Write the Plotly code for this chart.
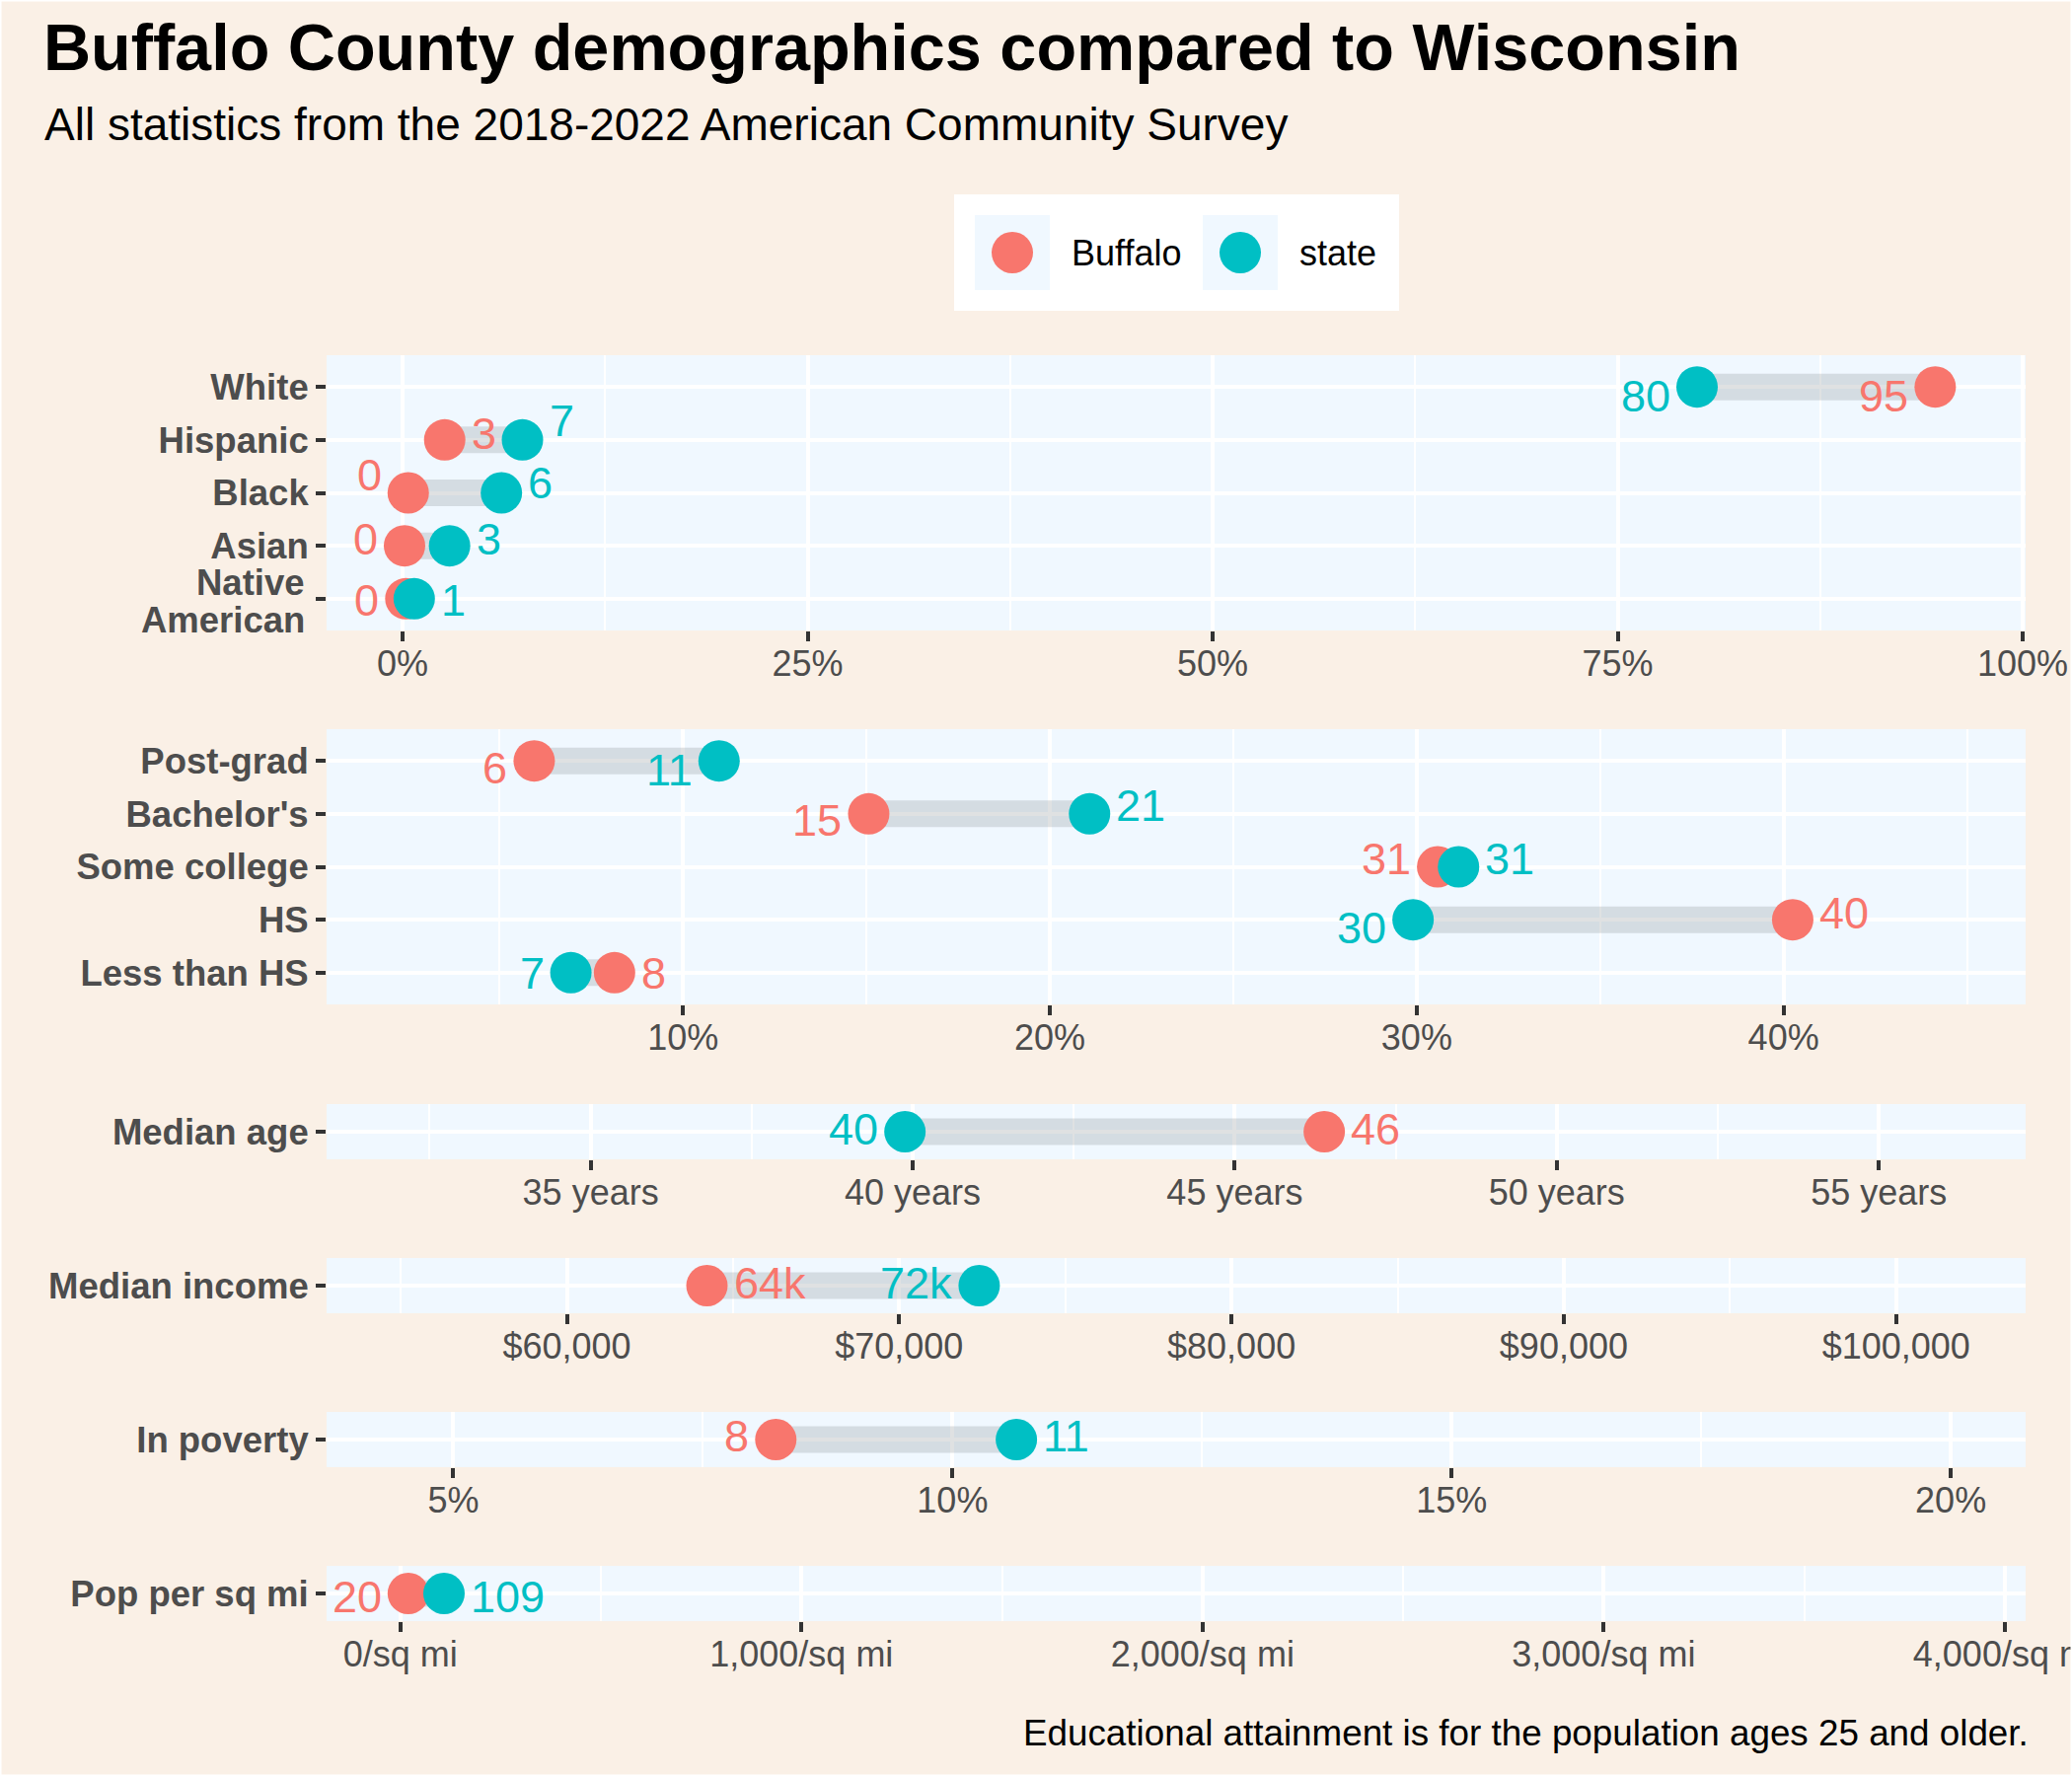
import plotly.graph_objects as go

# ---------------- data ----------------
race_cats = ["White", "Hispanic", "Black", "Asian", "Native American"]
race_buffalo = [94.6, 2.6, 0.35, 0.12, 0.2]
race_state = [79.9, 7.4, 6.1, 2.9, 0.72]

edu_cats = ["Post-grad", "Bachelor's", "Some college", "HS", "Less than HS"]
edu_buffalo = [5.94, 15.06, 30.57, 40.25, 8.13]
edu_state = [10.98, 21.08, 31.14, 29.9, 6.94]

age_cats = ["Median age"]
age_buffalo = [46.39]
age_state = [39.88]

income_cats = ["Median income"]
income_buffalo = [64216]
income_state = [72408]

poverty_cats = ["In poverty"]
poverty_buffalo = [8.23]
poverty_state = [10.64]

density_cats = ["Pop per sq mi"]
density_buffalo = [19.7]
density_state = [108.7]

race_ticks = [0, 25, 50, 75, 100]
race_ticktext = ["0%", "25%", "50%", "75%", "100%"]
edu_ticks = [10, 20, 30, 40]
edu_ticktext = ["10%", "20%", "30%", "40%"]
age_ticks = [35, 40, 45, 50, 55]
age_ticktext = ["35 years", "40 years", "45 years", "50 years", "55 years"]
income_ticks = [60000, 70000, 80000, 90000, 100000]
income_ticktext = ["$60,000", "$70,000", "$80,000", "$90,000", "$100,000"]
poverty_ticks = [5, 10, 15, 20]
poverty_ticktext = ["5%", "10%", "15%", "20%"]
density_ticks = [0, 1000, 2000, 3000, 4000]
density_ticktext = ["0/sq mi", "1,000/sq mi", "2,000/sq mi", "3,000/sq mi", "4,000/sq mi"]

# ---------------- style ----------------
W, H = 2100, 1800
BUF_COL = "#F8766D"
STATE_COL = "#00BFC4"
FONT = "Liberation Sans, Arial, Helvetica, sans-serif"
TXT_GREY = "#4D4D4D"
PANEL_L, PANEL_R = 331, 2053
LBL_GAP = 25
YLAB_FONT = dict(family=FONT, size=36.5, color=TXT_GREY, weight="bold")

def fmt_int(v):
    return str(int(round(v)))

def fmt_k(v):
    return f"{int(round(v / 1000))}k"

panels = [
    dict(cats=race_cats, buf=race_buffalo, st=race_state, ticks=race_ticks, ticktext=race_ticktext,
         minor=12.5, rng=[-4.69, 100.18], top=360, bot=639, fmt=fmt_int,
         buf_side=["L", "R", "L", "L", "L"], st_side=["L", "R", "R", "R", "R"],
         buf_dy=[9, -6, -18, -7, 2], st_dy=[9, -19, -10, -7, 2]),
    dict(cats=edu_cats, buf=edu_buffalo, st=edu_state, ticks=edu_ticks, ticktext=edu_ticktext,
         minor=5, rng=[0.28, 46.6], top=739, bot=1018, fmt=fmt_int,
         buf_side=["L", "L", "L", "R", "R"], st_side=["L", "R", "R", "L", "L"],
         buf_dy=[7, 7, -8, -7, 1], st_dy=[9, -8, -8, 8, 1]),
    dict(cats=age_cats, buf=age_buffalo, st=age_state, ticks=age_ticks, ticktext=age_ticktext,
         minor=2.5, rng=[30.9, 57.28], top=1119, bot=1175, fmt=fmt_int,
         buf_side=["R"], st_side=["L"], buf_dy=[-3], st_dy=[-3]),
    dict(cats=income_cats, buf=income_buffalo, st=income_state, ticks=income_ticks, ticktext=income_ticktext,
         minor=5000, rng=[52770, 103898], top=1275, bot=1331, fmt=fmt_k,
         buf_side=["R"], st_side=["L"], buf_dy=[-3], st_dy=[-3]),
    dict(cats=poverty_cats, buf=poverty_buffalo, st=poverty_state, ticks=poverty_ticks, ticktext=poverty_ticktext,
         minor=2.5, rng=[3.73, 20.75], top=1431, bot=1487, fmt=fmt_int,
         buf_side=["L"], st_side=["R"], buf_dy=[-4], st_dy=[-4]),
    dict(cats=density_cats, buf=density_buffalo, st=density_state, ticks=density_ticks, ticktext=density_ticktext,
         minor=500, rng=[-184, 4052], top=1587, bot=1643, fmt=fmt_int,
         buf_side=["L"], st_side=["R"], buf_dy=[3], st_dy=[3]),
]

fig = go.Figure()
annotations = []
layout_axes = {}

for i, p in enumerate(panels, start=1):
    xa = "x" if i == 1 else f"x{i}"
    ya = "y" if i == 1 else f"y{i}"
    cats = p["cats"]
    n = len(cats)

    # connecting band
    sx, sy = [], []
    for c, b, s in zip(cats, p["buf"], p["st"]):
        sx += [b, s, None]
        sy += [c, c, None]
    fig.add_trace(go.Scatter(x=sx, y=sy, mode="lines", xaxis=xa, yaxis=ya,
                             line=dict(color="rgba(150,155,160,0.30)", width=27),
                             hoverinfo="skip", showlegend=False))
    # points
    fig.add_trace(go.Scatter(x=p["buf"], y=cats, mode="markers", xaxis=xa, yaxis=ya,
                             marker=dict(size=42, color=BUF_COL, line=dict(width=0)),
                             name="Buffalo", showlegend=False))
    fig.add_trace(go.Scatter(x=p["st"], y=cats, mode="markers", xaxis=xa, yaxis=ya,
                             marker=dict(size=42, color=STATE_COL, line=dict(width=0)),
                             name="state", showlegend=False))

    # value labels
    for vals, sides, dys, col in ((p["buf"], p["buf_side"], p["buf_dy"], BUF_COL),
                                  (p["st"], p["st_side"], p["st_dy"], STATE_COL)):
        for c, v, sd, dy in zip(cats, vals, sides, dys):
            annotations.append(dict(
                x=v, y=c, xref=xa, yref=ya, text=p["fmt"](v), showarrow=False,
                xanchor="right" if sd == "L" else "left",
                xshift=-LBL_GAP if sd == "L" else LBL_GAP, yshift=-dy,
                font=dict(family=FONT, size=45, color=col)))

    # two-line category labels drawn with tighter line spacing (as in the reference)
    ticktext_y = []
    for c in cats:
        words = c.split(" ")
        if c == "Native American":
            ticktext_y.append("")
            for k, w in enumerate(words):
                annotations.append(dict(
                    x=0, y=c, xref="paper", yref=ya, text=w, showarrow=False,
                    xanchor="right", yanchor="middle", xshift=PANEL_L - 20,
                    yshift=16 - 38 * k, font=YLAB_FONT))
        else:
            ticktext_y.append(c)

    xkey = "xaxis" if i == 1 else f"xaxis{i}"
    ykey = "yaxis" if i == 1 else f"yaxis{i}"
    layout_axes[xkey] = dict(
        domain=[PANEL_L / W, PANEL_R / W], anchor=ya, range=p["rng"], automargin=False,
        tickmode="array", tickvals=p["ticks"], ticktext=p["ticktext"],
        showgrid=True, gridcolor="white", gridwidth=4, zeroline=False, showline=False,
        ticks="outside", ticklen=10, tickwidth=4, tickcolor="#333333",
        ticklabelstandoff=-8, ticklabeloverflow="allow",
        tickfont=dict(family=FONT, size=36, color=TXT_GREY),
        minor=dict(tick0=p["ticks"][0] + p["minor"], dtick=2 * p["minor"], showgrid=True,
                   gridcolor="white", gridwidth=2, ticks=""),
        fixedrange=True,
    )
    layout_axes[ykey] = dict(
        domain=[1 - p["bot"] / H, 1 - p["top"] / H], anchor=xa, type="category", automargin=False,
        categoryorder="array", categoryarray=cats[::-1], range=[-0.6, n - 0.4],
        tickmode="array", tickvals=cats, ticktext=ticktext_y,
        showgrid=True, gridcolor="white", gridwidth=4, zeroline=False, showline=False,
        ticks="outside", ticklen=10, tickwidth=4, tickcolor="#333333",
        tickfont=YLAB_FONT,
        fixedrange=True,
    )

def px(x):
    return x / W

def py(y):
    return 1 - y / H

# titles and caption
annotations += [
    dict(x=px(42), y=py(48), xref="paper", yref="paper", xanchor="left", yanchor="middle",
         text="Buffalo County demographics compared to Wisconsin", showarrow=False,
         font=dict(family=FONT, size=66.6, color="black", weight="bold")),
    dict(x=px(43), y=py(126), xref="paper", yref="paper", xanchor="left", yanchor="middle",
         text="All statistics from the 2018-2022 American Community Survey", showarrow=False,
         font=dict(family=FONT, size=46, color="black")),
    dict(x=px(2058), y=py(1756), xref="paper", yref="paper", xanchor="right", yanchor="middle",
         text="Educational attainment is for the population ages 25 and older.", showarrow=False,
         font=dict(family=FONT, size=36.8, color="black")),
    dict(x=px(1084), y=py(256), xref="paper", yref="paper", xanchor="left", yanchor="middle",
         text="Buffalo", showarrow=False, font=dict(family=FONT, size=36, color="black")),
    dict(x=px(1315), y=py(256), xref="paper", yref="paper", xanchor="left", yanchor="middle",
         text="state", showarrow=False, font=dict(family=FONT, size=36, color="black")),
]

shapes = [
    dict(type="rect", xref="paper", yref="paper", x0=0, x1=1, y0=0, y1=1,
         line=dict(color="white", width=3), fillcolor="rgba(0,0,0,0)", layer="above"),
    dict(type="rect", xref="paper", yref="paper", x0=px(967), x1=px(1418), y0=py(315), y1=py(197),
         line=dict(width=0), fillcolor="white", layer="below"),
    dict(type="rect", xref="paper", yref="paper", x0=px(988), x1=px(1064), y0=py(294), y1=py(218),
         line=dict(width=0), fillcolor="#F0F8FF", layer="below"),
    dict(type="rect", xref="paper", yref="paper", x0=px(1219), x1=px(1295), y0=py(294), y1=py(218),
         line=dict(width=0), fillcolor="#F0F8FF", layer="below"),
    dict(type="circle", xref="paper", yref="paper", x0=px(1005), x1=px(1047), y0=py(277), y1=py(235),
         line=dict(width=0), fillcolor=BUF_COL, layer="above"),
    dict(type="circle", xref="paper", yref="paper", x0=px(1236), x1=px(1278), y0=py(277), y1=py(235),
         line=dict(width=0), fillcolor=STATE_COL, layer="above"),
]

fig.update_layout(
    width=W, height=H, margin=dict(l=0, r=0, t=0, b=0, autoexpand=False),
    paper_bgcolor="#FAF0E6", plot_bgcolor="#F0F8FF",
    showlegend=False, annotations=annotations, shapes=shapes,
    font=dict(family=FONT),
    **layout_axes,
)

fig.write_html("out.html")
